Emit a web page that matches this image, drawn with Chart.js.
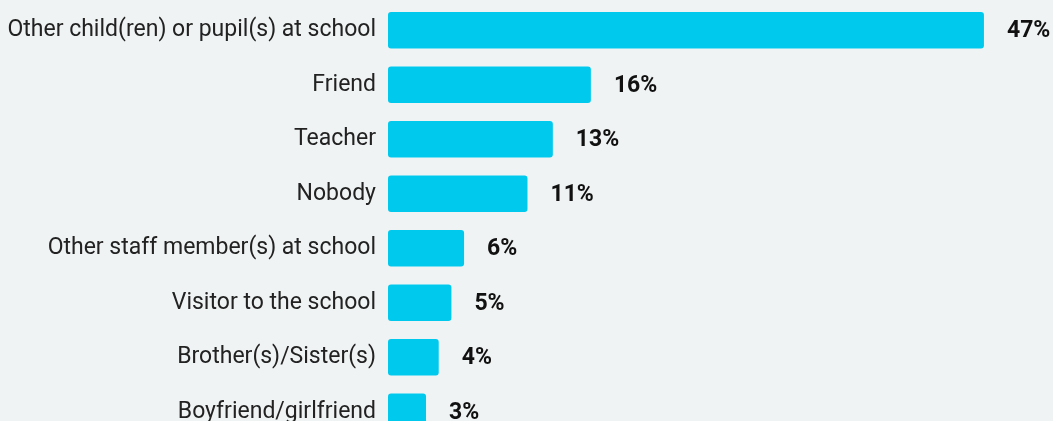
<!DOCTYPE html>
<html>
<head>
<meta charset="utf-8">
<script src="https://cdn.jsdelivr.net/npm/chart.js@4"></script>
<style>
  html, body { margin: 0; padding: 0; background: #f0f3f4; overflow: hidden; }
  #wrap { position: relative; width: 1053px; height: 439px; }
</style>
</head>
<body>
<div id="wrap"><canvas id="chart"></canvas></div>
<script>
const categories = [
  "Other child(ren) or pupil(s) at school",
  "Friend",
  "Teacher",
  "Nobody",
  "Other staff member(s) at school",
  "Visitor to the school",
  "Brother(s)/Sister(s)",
  "Boyfriend/girlfriend"
];
const percentages = [47, 16, 13, 11, 6, 5, 4, 3];

// writes "NN%" just past the end of every bar
const valueLabels = {
  id: "valueLabels",
  afterDatasetsDraw(chart) {
    const ctx = chart.ctx;
    const meta = chart.getDatasetMeta(0);
    ctx.save();
    ctx.font = "bold 23px Roboto";
    ctx.fillStyle = "#111";
    ctx.textAlign = "left";
    ctx.textBaseline = "middle";
    meta.data.forEach((bar, i) => {
      ctx.fillText(percentages[i] + "%", bar.x + 23, bar.y + 1);
    });
    ctx.restore();
  }
};

const ctx = document.getElementById("chart").getContext("2d");
new Chart(ctx, {
  type: "bar",
  data: {
    labels: categories,
    datasets: [{
      data: percentages,
      backgroundColor: "#00c9ee",
      borderRadius: 3,
      borderSkipped: false,
      barPercentage: 0.67,
      categoryPercentage: 1
    }]
  },
  options: {
    indexAxis: "y",
    responsive: true,
    maintainAspectRatio: false,
    animation: false,
    layout: { padding: { top: 3, right: 31, bottom: 0, left: 0 } },
    plugins: {
      legend: { display: false },
      tooltip: { enabled: false }
    },
    scales: {
      x: {
        display: false,
        min: 0,
        max: 50
      },
      y: {
        grid: { display: false, drawTicks: false },
        border: { display: false },
        ticks: {
          padding: 12,
          color: "#222",
          font: { family: "Roboto", size: 23 }
        },
        afterFit(scale) {
          scale.width = 388;
          scale.paddingTop = 0;
          scale.paddingBottom = 0;
        }
      }
    }
  },
  plugins: [valueLabels]
});
</script>
</body>
</html>
